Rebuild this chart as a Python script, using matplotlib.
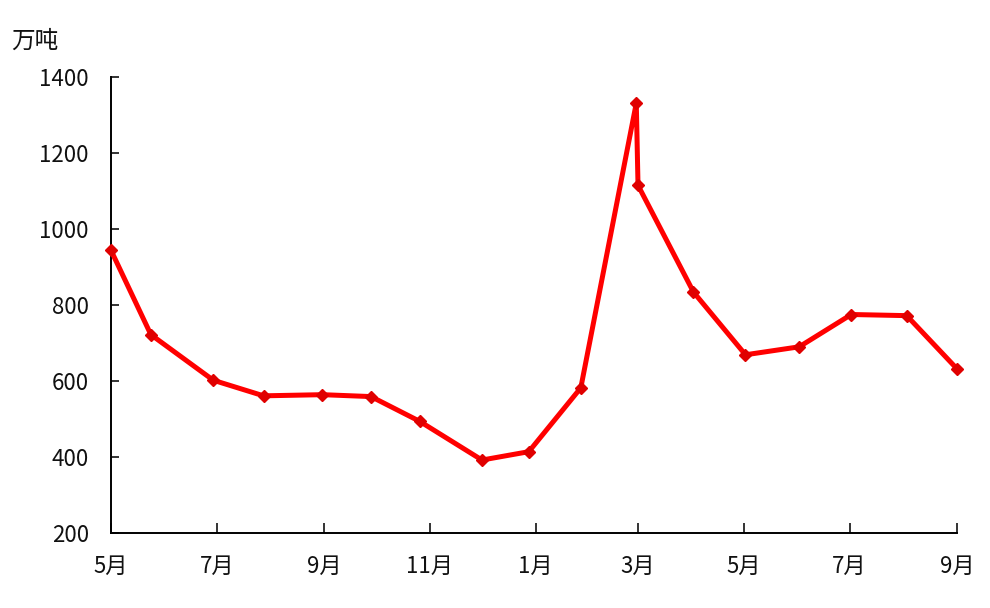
import matplotlib
matplotlib.use("Agg")
import matplotlib.pyplot as plt
import matplotlib.dates as mdates
import pandas as pd

plt.rcParams['font.family'] = ['Noto Sans CJK SC', 'DejaVu Sans']

# data
dates = ["2008-05-01", "2008-05-24", "2008-06-29", "2008-07-28", "2008-08-31",
         "2008-09-28", "2008-10-26", "2008-12-01", "2008-12-28", "2009-01-27",
         "2009-02-28", "2009-03-01", "2009-04-02", "2009-05-02", "2009-06-02",
         "2009-07-02", "2009-08-03", "2009-09-01"]
values = [944, 722, 602, 561, 564, 559, 494, 392, 414, 582,
          1331, 1115, 834, 669, 690, 775, 772, 632]
unit_label = "万吨"
y_ticks = [200, 400, 600, 800, 1000, 1200, 1400]
x_start, x_end = "2008-05-01", "2009-09-01"

x = pd.to_datetime(dates)

fig = plt.figure(figsize=(9.9, 6.08), dpi=100)
ax = fig.add_axes([111/990, 1-533/608, (957-111)/990, (533-77)/608])

ax.plot(x, values, color="#FF0000", linewidth=3.6, marker="D", markersize=6,
        markeredgecolor="#E00000", markerfacecolor="#E00000", clip_on=False, zorder=3)

ax.set_xlim(pd.Timestamp(x_start), pd.Timestamp(x_end))
ax.set_ylim(200, 1400)
ax.set_yticks(y_ticks)
ax.set_yticklabels([str(v) for v in y_ticks])

ax.xaxis.set_major_locator(mdates.MonthLocator(bymonth=[1, 3, 5, 7, 9, 11]))
ax.xaxis.set_major_formatter(plt.FuncFormatter(
    lambda v, p: f"{mdates.num2date(v).month}月"))

for s in ["top", "right"]:
    ax.spines[s].set_visible(False)
for s in ["left", "bottom"]:
    ax.spines[s].set_color("black")
    ax.spines[s].set_linewidth(1.4)

ax.tick_params(axis="y", direction="in", length=6, width=1.2, pad=16,
               labelsize=16, colors="#111111")
ax.tick_params(axis="x", direction="in", length=7, width=1.2, pad=16,
               labelsize=16, colors="#111111")

fig.text(11/990, 1-41/608, unit_label, fontsize=17, va="center", ha="left",
         color="#111111")

fig.savefig("out.png", dpi=100, facecolor="white")
